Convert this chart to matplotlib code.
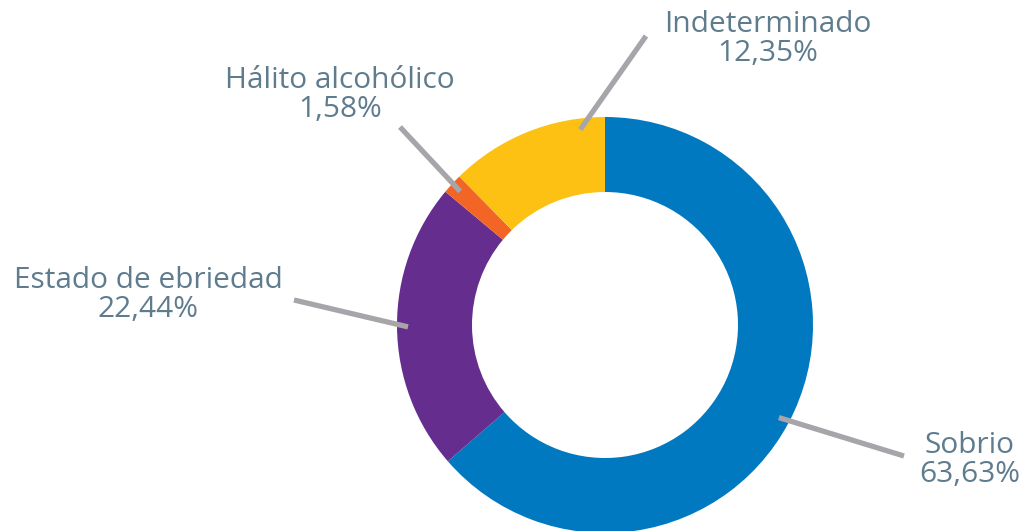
import numpy as np
import matplotlib
matplotlib.use("Agg")
import matplotlib.pyplot as plt

categories = ["Sobrio", "Estado de ebriedad", "Hálito alcohólico", "Indeterminado"]
values = [63.63, 22.44, 1.58, 12.35]
value_labels = ["63,63%", "22,44%", "1,58%", "12,35%"]
colors = ["#0079C1", "#652D8E", "#F26524", "#FDC113"]

# layout (pixel coordinates)
W, H = 1029, 531
cx, cy, R = 605, 325, 208
ring_w = 75
label_pos = [(970, 460), (148, 295), (340, 95), (768, 39)]
line_end = [(904, 456), (294, 300), (400, 127), (646, 36)]
start_offset = [-3.5, 0, 0, -15]   # degrees (screen, counter-clockwise positive)
text_color = "#5F7C8E"
line_color = "#A8A5AA"

fig = plt.figure(figsize=(W / 100, H / 100), dpi=100)
ax = fig.add_axes([0, 0, 1, 1])

# y axis is inverted later, so draw counter-clockwise from -90 in data space
ax.pie(values, colors=colors, startangle=-90, counterclock=True,
       center=(cx, cy), radius=R,
       wedgeprops=dict(width=ring_w, linewidth=0))
ax.set_xlim(0, W)
ax.set_ylim(H, 0)
ax.set_aspect("equal")
ax.axis("off")

total = sum(values)
cum = 0
for i, v in enumerate(values):
    mid = 90 - 360 * (cum + v / 2) / total   # screen angle
    cum += v
    a = np.deg2rad(mid + start_offset[i])
    r0 = 197
    x0 = cx + r0 * np.cos(a)
    y0 = cy - r0 * np.sin(a)
    ax.plot([x0, line_end[i][0]], [y0, line_end[i][1]], color=line_color,
            lw=3.8, solid_capstyle="butt", zorder=5)
    lx, ly = label_pos[i]
    ax.text(lx, ly, categories[i] + "\n" + value_labels[i], ha="center", va="center",
            fontsize=21.5, color=text_color, family="Open Sans", linespacing=0.98)

fig.savefig("out.png", dpi=100)
